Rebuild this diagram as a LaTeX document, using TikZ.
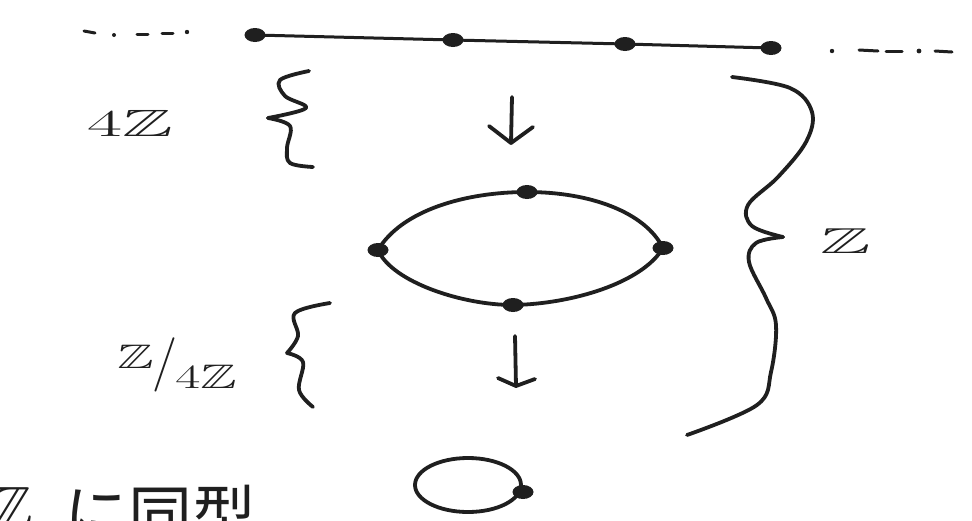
\documentclass[tikz,border=0pt]{standalone}
\usepackage{amssymb}
\usepackage{fontspec}
\newfontfamily\jpfont{Noto Sans CJK JP}
\begin{document}
\begin{tikzpicture}[x=1pt,y=-1pt,
  pen/.style={line width=3.8pt, line cap=round, line join=round, draw=black!88},
  thinpen/.style={line width=3pt, line cap=round, line join=round, draw=black!88},
  blob/.style={fill=black!88},
  lab/.style={inner sep=0pt, text=black!88}]
\clip (0,0) rectangle (972,520);
\fill[white] (0,0) rectangle (972,520);

% ---- top line (the integers) ----
\coordinate (p1) at (255,35);
\coordinate (p2) at (453,40);
\coordinate (p3) at (625,44);
\coordinate (p4) at (771,48);
\draw[thinpen] (p1) -- (p2) -- (p3) -- (p4);
\foreach \p in {p1,p2,p3,p4} \fill[blob] (\p) ellipse (10.5pt and 7pt);
% dashes left
\draw[thinpen] (84,31) -- (95,33);
\fill[blob] (114,35) circle (2pt);
\draw[thinpen] (137,34) -- (148,34);
\draw[thinpen] (162,33) -- (173,33);
\fill[blob] (187,32) circle (2.2pt);
% dashes right
\fill[blob] (832,51) circle (2.2pt);
\draw[thinpen] (859,50) -- (878,51);
\draw[thinpen] (886,51) -- (902,51);
\fill[blob] (919,51) circle (2.4pt);
\draw[thinpen] (935,51) -- (952,52);

% ---- arrow 1 ----
\coordinate (a1s) at (512,97);
\coordinate (a1e) at (511,143);
\draw[pen] (a1s) -- (a1e);
\draw[pen] (489,126) -- (a1e) -- (533,127);

% ---- circle with four points ----
\coordinate (L) at (378,250);
\coordinate (T) at (527,192);
\coordinate (R) at (663,248);
\coordinate (B) at (513,305);
\draw[pen] (L) .. controls (402,210) and (466,192) .. (T)
               .. controls (590,192) and (645,212) .. (R)
               .. controls (642,283) and (572,304) .. (B)
               .. controls (462,305) and (392,282) .. (L);
\foreach \p in {L,T,R,B} \fill[blob] (\p) ellipse (10.5pt and 7pt);

% ---- arrow 2 ----
\coordinate (a2s) at (515,336);
\coordinate (a2e) at (516,386);
\draw[pen] (a2s) -- (a2e);
\draw[pen] (498,378) -- (a2e) -- (535,379);

% ---- small circle ----
\draw[pen] (468,485) ellipse (53pt and 27pt);
\fill[blob] (523,492) ellipse (10.5pt and 7pt);

% ---- brace 4Z ----
\draw[pen] plot[smooth, tension=0.6] coordinates {(309,71) (280,80) (285,96) (306,108) (268,118)};
\draw[pen] plot[smooth, tension=0.6] coordinates {(268,118) (290,126) (287,148) (290,163) (313,167)};
\node[lab] (l4z) at (130,123) {\fontsize{38}{38}\selectfont\scalebox{2.0}[1]{4$\mathbb{Z}$}};

% ---- brace Z/4Z ----
\draw[pen] plot[smooth, tension=0.6] coordinates {(330,303) (295,313) (298,336) (287,353)};
\draw[pen] plot[smooth, tension=0.6] coordinates {(287,353) (303,362) (299,390) (313,407)};
\node[lab] (lq) at (177,365) {\fontsize{34}{34}\selectfont\scalebox{1.6}[1]{\raisebox{10pt}{$\mathbb{Z}$}\kern-1pt\scalebox{1}[1.6]{/}\kern-1pt\raisebox{-10pt}{4$\mathbb{Z}$}}};

% ---- big brace Z ----
\draw[pen] plot[smooth, tension=0.6] coordinates {(732,77) (790,88) (812,112) (806,142) (778,177) (748,205) (752,226) (783,237)};
\draw[pen] plot[smooth, tension=0.6] coordinates {(783,237) (756,243) (749,262) (766,298) (776,325) (771,372) (757,405) (687,435)};
\node[lab] (lz) at (846,241) {\fontsize{36}{36}\selectfont\scalebox{2.1}[1]{$\mathbb{Z}$}};

% ---- bottom text (cut by the lower edge, as in the reference) ----
\node[lab, anchor=base east] (bz) at (33,531) {\fontsize{64}{64}\selectfont$\mathbb{Z}$};
\node[lab, anchor=base west] (bt) at (64,538) {\fontsize{64}{64}\selectfont\jpfont に同型};
\end{tikzpicture}
\end{document}
